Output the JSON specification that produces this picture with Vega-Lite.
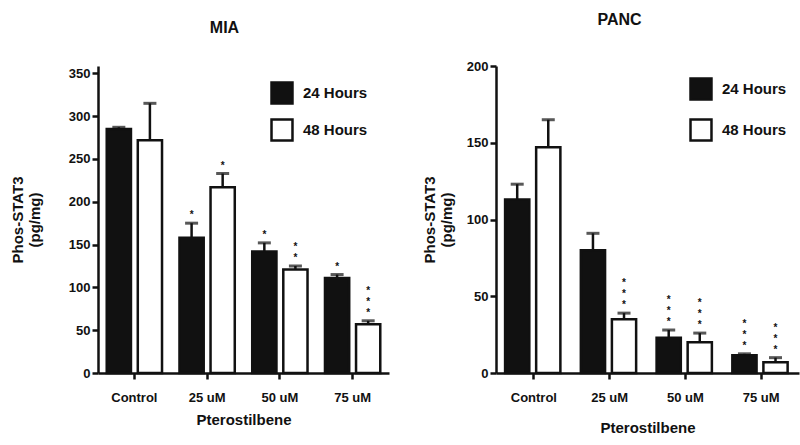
{
  "$schema": "https://vega.github.io/schema/vega-lite/v6.json",
  "padding": {"left": 10, "top": 12, "right": 6, "bottom": 6},
  "spacing": 33,
  "config": {
    "font": "Liberation Sans",
    "view": {"stroke": null},
    "axis": {
      "domainColor": "#111", "domainWidth": 2.5, "tickColor": "#111", "tickWidth": 2.5, "tickSize": 6,
      "labelFont": "Liberation Sans", "labelFontWeight": "bold", "labelFontSize": 13, "labelColor": "#111",
      "titleFont": "Liberation Sans", "titleFontWeight": "bold", "titleFontSize": 15, "titleColor": "#111", "grid": false
    },
    "legend": {
      "labelFont": "Liberation Sans", "labelFontWeight": "bold", "labelFontSize": 15, "labelColor": "#111",
      "symbolType": "square", "symbolSize": 440, "symbolStrokeColor": "#111", "symbolStrokeWidth": 2.5,
      "labelOffset": 9, "title": null
    },
    "title": {"font": "Liberation Sans", "fontWeight": "bold", "fontSize": 16, "color": "#111"}
  },
  "datasets": {
    "mia": [
      {"conc": "Control", "time": "24 Hours", "mean": 285, "upper": 287, "sig": "", "n": 0},
      {"conc": "Control", "time": "48 Hours", "mean": 272, "upper": 315, "sig": "", "n": 0},
      {"conc": "25 uM", "time": "24 Hours", "mean": 158, "upper": 175, "sig": "*", "n": 1},
      {"conc": "25 uM", "time": "48 Hours", "mean": 217, "upper": 233, "sig": "*", "n": 1},
      {"conc": "50 uM", "time": "24 Hours", "mean": 142, "upper": 152, "sig": "*", "n": 1},
      {"conc": "50 uM", "time": "48 Hours", "mean": 121, "upper": 125, "sig": "*\n*", "n": 2},
      {"conc": "75 uM", "time": "24 Hours", "mean": 111, "upper": 115, "sig": "*", "n": 1},
      {"conc": "75 uM", "time": "48 Hours", "mean": 57, "upper": 61, "sig": "*\n*\n*", "n": 3}
    ],
    "panc": [
      {"conc": "Control", "time": "24 Hours", "mean": 113, "upper": 123, "sig": "", "n": 0},
      {"conc": "Control", "time": "48 Hours", "mean": 147, "upper": 165, "sig": "", "n": 0},
      {"conc": "25 uM", "time": "24 Hours", "mean": 80, "upper": 91, "sig": "", "n": 0},
      {"conc": "25 uM", "time": "48 Hours", "mean": 35, "upper": 39, "sig": "*\n*\n*", "n": 3},
      {"conc": "50 uM", "time": "24 Hours", "mean": 23, "upper": 28, "sig": "*\n*\n*", "n": 3},
      {"conc": "50 uM", "time": "48 Hours", "mean": 20, "upper": 26, "sig": "*\n*\n*", "n": 3},
      {"conc": "75 uM", "time": "24 Hours", "mean": 11.5, "upper": 12.5, "sig": "*\n*\n*", "n": 3},
      {"conc": "75 uM", "time": "48 Hours", "mean": 7, "upper": 10, "sig": "*\n*\n*", "n": 3}
    ]
  },
  "hconcat": [
    {
      "width": 291, "height": 307,
      "title": {"text": "MIA", "dx": -19, "offset": 30},
      "data": {"name": "mia"},
      "encoding": {
        "x": {"field": "conc", "type": "nominal", "sort": ["Control", "25 uM", "50 uM", "75 uM"],
              "scale": {"paddingInner": 0.24, "paddingOuter": 0.12},
              "axis": {"title": "Pterostilbene", "labelAngle": 0, "labelPadding": 12, "titlePadding": 8}},
        "xOffset": {"field": "time", "type": "nominal", "sort": ["24 Hours", "48 Hours"], "scale": {"paddingInner": 0.22}}
      },
      "layer": [
        {
          "mark": {"type": "bar", "stroke": "#111", "strokeWidth": 2.5},
          "encoding": {
            "y": {"field": "mean", "type": "quantitative", "title": ["Phos-STAT3", "(pg/mg)"],
                  "scale": {"domain": [0, 358.6], "nice": false}, "axis": {"values": [0, 50, 100, 150, 200, 250, 300, 350], "titlePadding": 26}},
            "fill": {"field": "time", "type": "nominal", "sort": ["24 Hours", "48 Hours"],
                     "scale": {"range": ["#111111", "#ffffff"]},
                     "legend": {"orient": "none", "legendX": 172, "legendY": 15, "rowPadding": 5}}
          }
        },
        {
          "mark": {"type": "rule", "color": "#111", "strokeWidth": 2.5},
          "encoding": {
            "y": {"field": "mean", "type": "quantitative", "title": ["Phos-STAT3", "(pg/mg)"]},
            "y2": {"field": "upper"}
          }
        },
        {
          "mark": {"type": "tick", "color": "#111", "thickness": 3, "size": 13},
          "encoding": {"y": {"field": "upper", "type": "quantitative", "title": ["Phos-STAT3", "(pg/mg)"]}}
        },
        {
          "transform": [{"filter": "datum.n == 1"}],
          "mark": {"type": "text", "baseline": "bottom", "align": "center", "dy": -3, "lineBreak": "\n", "lineHeight": 11, "fontSize": 10, "fontWeight": "bold", "color": "#111"},
          "encoding": {
            "y": {"field": "upper", "type": "quantitative", "title": ["Phos-STAT3", "(pg/mg)"]},
            "text": {"field": "sig"}
          }
        },
        {
          "transform": [{"filter": "datum.n == 2"}],
          "mark": {"type": "text", "baseline": "bottom", "align": "center", "dy": -14, "lineBreak": "\n", "lineHeight": 11, "fontSize": 10, "fontWeight": "bold", "color": "#111"},
          "encoding": {
            "y": {"field": "upper", "type": "quantitative", "title": ["Phos-STAT3", "(pg/mg)"]},
            "text": {"field": "sig"}
          }
        },
        {
          "transform": [{"filter": "datum.n == 3"}],
          "mark": {"type": "text", "baseline": "bottom", "align": "center", "dy": -25, "lineBreak": "\n", "lineHeight": 11, "fontSize": 10, "fontWeight": "bold", "color": "#111"},
          "encoding": {
            "y": {"field": "upper", "type": "quantitative", "title": ["Phos-STAT3", "(pg/mg)"]},
            "text": {"field": "sig"}
          }
        }
      ]
    },
    {
      "width": 303, "height": 307,
      "title": {"text": "PANC", "dx": -28, "offset": 32},
      "data": {"name": "panc"},
      "encoding": {
        "x": {"field": "conc", "type": "nominal", "sort": ["Control", "25 uM", "50 uM", "75 uM"],
              "scale": {"paddingInner": 0.24, "paddingOuter": 0.12},
              "axis": {"title": "Pterostilbene", "labelAngle": 0, "labelPadding": 12, "titlePadding": 16}},
        "xOffset": {"field": "time", "type": "nominal", "sort": ["24 Hours", "48 Hours"], "scale": {"paddingInner": 0.22}}
      },
      "layer": [
        {
          "mark": {"type": "bar", "stroke": "#111", "strokeWidth": 2.5},
          "encoding": {
            "y": {"field": "mean", "type": "quantitative", "title": ["Phos-STAT3", "(pg/mg)"],
                  "scale": {"domain": [0, 200]}, "axis": {"values": [0, 50, 100, 150, 200], "titlePadding": 12}},
            "fill": {"field": "time", "type": "nominal", "sort": ["24 Hours", "48 Hours"],
                     "scale": {"range": ["#111111", "#ffffff"]},
                     "legend": {"orient": "none", "legendX": 193, "legendY": 11, "rowPadding": 9}}
          }
        },
        {
          "mark": {"type": "rule", "color": "#111", "strokeWidth": 2.5},
          "encoding": {
            "y": {"field": "mean", "type": "quantitative", "title": ["Phos-STAT3", "(pg/mg)"]},
            "y2": {"field": "upper"}
          }
        },
        {
          "mark": {"type": "tick", "color": "#111", "thickness": 3, "size": 13},
          "encoding": {"y": {"field": "upper", "type": "quantitative", "title": ["Phos-STAT3", "(pg/mg)"]}}
        },
        {
          "transform": [{"filter": "datum.n == 3"}],
          "mark": {"type": "text", "baseline": "bottom", "align": "center", "dy": -25, "lineBreak": "\n", "lineHeight": 11, "fontSize": 10, "fontWeight": "bold", "color": "#111"},
          "encoding": {
            "y": {"field": "upper", "type": "quantitative", "title": ["Phos-STAT3", "(pg/mg)"]},
            "text": {"field": "sig"}
          }
        }
      ]
    }
  ],
  "resolve": {"scale": {"fill": "independent"}, "legend": {"fill": "independent"}}
}
